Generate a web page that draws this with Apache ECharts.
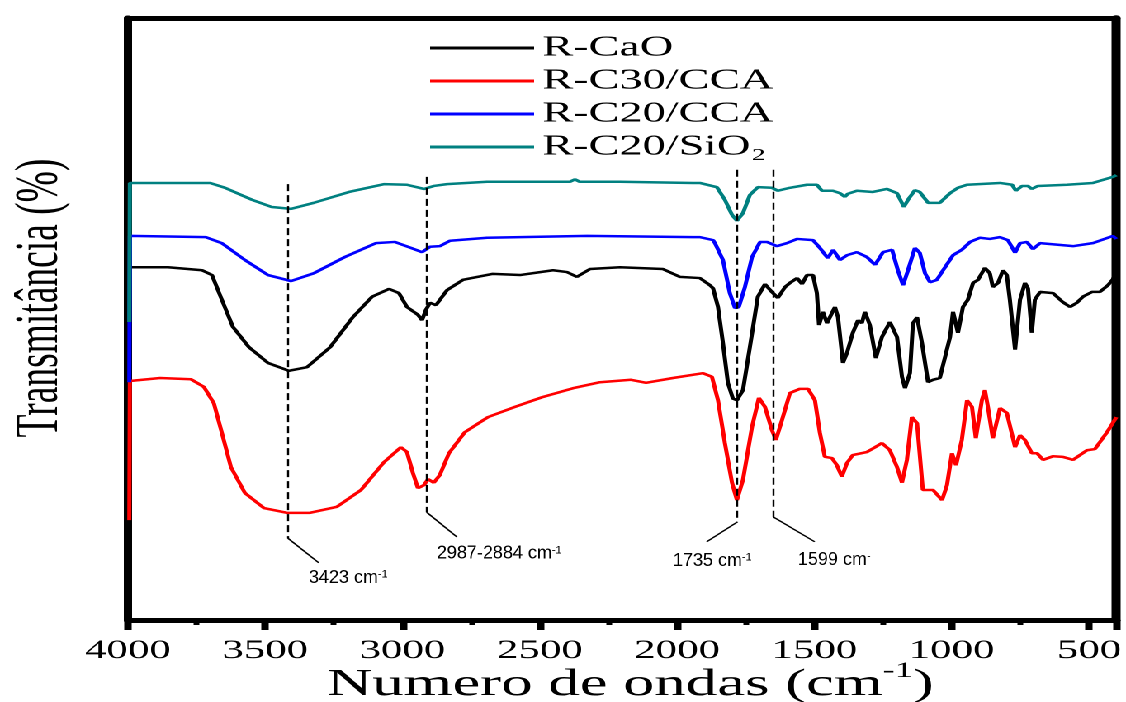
<!DOCTYPE html>
<html>
<head>
<meta charset="utf-8">
<title>FTIR - Transmitancia</title>
<script src="https://cdn.jsdelivr.net/npm/echarts@6.0.0/dist/echarts.min.js"></script>
<style>
html, body { margin: 0; padding: 0; background: #fff; overflow: hidden; }
/* the published figure is stretched sideways, so the chart is drawn narrow and widened */
#chart { width: 682px; height: 702px; transform: scaleX(1.651); transform-origin: 0 0; }
</style>
</head>
<body>
<div id="chart"></div>
<script>
const STRETCH = 1126 / 682

const seriesNames = ['R-CaO', 'R-C30/CCA', 'R-C20/CCA', 'R-C20/SiO₂']
const seriesColors = ['#000000', '#ff0000', '#0000ff', '#008080']

// [wavenumber cm-1, transmittance a.u.]
const rCaO = [
  [4000, 58.6], [3854, 58.6], [3730, 58.1], [3694, 57.3], [3658, 53.2], [3618, 48.7], [3559, 45.3], [3490, 42.7],
  [3414, 41.4], [3348, 42.0], [3264, 45.3], [3181, 50.3], [3111, 53.7], [3049, 55.0], [3013, 54.3], [2984, 52.0],
  [2944, 50.7], [2929, 49.8], [2915, 51.5], [2900, 52.7], [2878, 52.3], [2838, 54.8], [2780, 56.5], [2671, 57.5],
  [2572, 57.3], [2452, 58.1], [2401, 57.8], [2365, 57.0], [2317, 58.3], [2208, 58.6], [2052, 58.3], [1990, 57.0],
  [1917, 56.8], [1880, 55.6], [1869, 55.1], [1851, 52.0], [1833, 46.0], [1815, 39.4], [1797, 36.8], [1782, 36.5],
  [1760, 38.2], [1735, 45.3], [1706, 53.7], [1680, 55.8], [1655, 54.5], [1633, 53.5], [1607, 55.3], [1589, 56.0],
  [1563, 56.8], [1545, 55.8], [1527, 57.3], [1505, 57.3], [1491, 54.3], [1483, 49.0], [1469, 51.2], [1454, 49.3],
  [1436, 51.0], [1425, 52.0], [1414, 50.3], [1396, 42.7], [1381, 44.4], [1360, 47.7], [1341, 49.8], [1327, 49.3],
  [1316, 51.2], [1298, 49.0], [1276, 43.5], [1254, 47.0], [1225, 49.5], [1199, 47.0], [1181, 40.4], [1170, 38.5],
  [1152, 41.0], [1141, 49.3], [1126, 50.3], [1108, 46.0], [1086, 39.5], [1068, 39.9], [1043, 40.2], [1024, 43.7],
  [1006, 47.0], [995, 51.2], [977, 47.7], [959, 52.0], [941, 53.2], [922, 56.0], [904, 56.5], [879, 58.5],
  [861, 57.6], [850, 55.3], [831, 56.0], [813, 58.1], [799, 57.3], [788, 53.2], [769, 44.9], [751, 53.2],
  [733, 56.0], [722, 55.1], [708, 47.7], [697, 53.2], [678, 54.5], [631, 54.3], [595, 52.8], [569, 52.0],
  [544, 52.7], [522, 53.7], [489, 54.5], [460, 54.5], [431, 55.6], [413, 56.6], [405, 57.3]
]

const rC30CCA = [
  [3995, 16.6], [3993, 39.7], [3883, 40.2], [3771, 40.0], [3723, 38.7], [3687, 36.0], [3658, 31.1], [3625, 25.4],
  [3574, 21.1], [3505, 18.6], [3421, 17.8], [3337, 17.8], [3239, 18.8], [3151, 21.6], [3068, 26.2], [3006, 28.7],
  [2984, 27.9], [2962, 24.4], [2944, 21.9], [2922, 22.4], [2907, 23.4], [2886, 22.8], [2864, 24.1], [2831, 27.7],
  [2773, 31.2], [2689, 33.7], [2591, 35.4], [2492, 37.0], [2379, 38.5], [2281, 39.5], [2168, 39.9], [2113, 39.4],
  [2015, 40.2], [1906, 41.0], [1873, 40.4], [1851, 36.5], [1826, 29.4], [1800, 22.8], [1782, 19.9], [1760, 23.3],
  [1727, 32.1], [1702, 36.9], [1680, 35.4], [1655, 31.6], [1640, 29.9], [1618, 33.2], [1589, 37.7], [1553, 38.4],
  [1523, 38.4], [1498, 36.5], [1480, 31.1], [1462, 27.1], [1436, 26.9], [1418, 25.7], [1400, 23.8], [1381, 26.1],
  [1360, 27.4], [1309, 27.9], [1279, 28.7], [1254, 29.4], [1225, 28.2], [1199, 25.4], [1181, 22.8], [1163, 26.6],
  [1145, 33.7], [1126, 32.7], [1105, 21.6], [1068, 21.6], [1035, 19.9], [1017, 22.4], [999, 27.7], [984, 25.7],
  [963, 29.9], [944, 36.5], [926, 35.4], [912, 30.2], [890, 36.5], [879, 38.2], [868, 35.4], [850, 30.2],
  [824, 35.2], [799, 34.4], [769, 28.7], [751, 30.7], [733, 29.9], [708, 27.7], [689, 27.7], [667, 26.6],
  [631, 27.2], [595, 27.1], [558, 26.6], [507, 28.2], [478, 28.4], [434, 31.2], [400, 33.7]
]

const rC20CCA = [
  [3995, 39.5], [3993, 63.8], [3716, 63.6], [3658, 62.6], [3574, 59.8], [3490, 57.3], [3406, 56.3], [3323, 57.6],
  [3210, 60.3], [3097, 62.6], [3028, 62.8], [2969, 61.8], [2929, 61.1], [2900, 62.0], [2864, 62.1], [2827, 63.0],
  [2692, 63.5], [2328, 63.8], [1942, 63.6], [1917, 63.6], [1869, 63.1], [1862, 62.6], [1833, 59.8], [1808, 54.3],
  [1789, 51.8], [1775, 52.0], [1753, 55.3], [1727, 60.3], [1698, 62.8], [1673, 62.8], [1636, 62.1], [1600, 62.6],
  [1563, 63.3], [1505, 63.1], [1480, 61.8], [1451, 60.1], [1432, 61.5], [1407, 59.8], [1381, 60.6], [1345, 61.1],
  [1309, 60.3], [1279, 59.0], [1250, 61.1], [1217, 61.5], [1196, 58.1], [1177, 55.6], [1159, 58.1], [1134, 61.8],
  [1116, 61.0], [1097, 57.6], [1079, 56.1], [1054, 56.5], [1043, 56.8], [1024, 58.6], [995, 60.6], [963, 61.5],
  [933, 62.8], [897, 63.5], [861, 63.3], [824, 63.6], [795, 63.1], [769, 61.0], [751, 62.6], [726, 62.8],
  [704, 61.6], [678, 62.6], [558, 62.1], [486, 62.6], [413, 63.8], [400, 63.3]
]

const rC20SiO2 = [
  [3995, 49.5], [3993, 72.6], [3701, 72.6], [3647, 71.8], [3548, 69.8], [3476, 68.6], [3406, 68.3], [3323, 69.3],
  [3195, 71.1], [3068, 72.4], [2984, 72.3], [2922, 71.6], [2886, 72.1], [2838, 72.4], [2692, 72.8], [2390, 72.8],
  [2372, 73.2], [2355, 72.8], [2208, 72.8], [1942, 72.6], [1917, 72.6], [1855, 71.9], [1826, 69.8], [1800, 67.3],
  [1782, 66.3], [1760, 67.6], [1735, 70.6], [1706, 71.9], [1655, 71.8], [1633, 71.3], [1589, 71.8], [1527, 72.3],
  [1491, 72.3], [1472, 71.3], [1432, 71.3], [1407, 70.9], [1389, 70.3], [1378, 70.8], [1345, 71.3], [1287, 71.1],
  [1236, 71.6], [1199, 70.9], [1174, 68.6], [1159, 69.8], [1134, 71.4], [1116, 71.1], [1086, 69.3], [1068, 69.3],
  [1043, 69.3], [1006, 70.9], [977, 71.8], [944, 72.3], [824, 72.6], [780, 72.3], [766, 71.3], [744, 72.1],
  [722, 72.1], [708, 71.6], [686, 72.1], [580, 72.3], [486, 72.6], [413, 73.6], [400, 73.9]
]

// band markers: dashed drop lines, leader lines and their labels
const bandX = [3418, 2912, 1780, 1649]
const bandTop = [72.4, 73.6, 74.8, 74.8]
const bandBottom = [13.6, 17.9, 16.3, 17.1]
const leaderEnd = [[3305, 9.5], [2802, 13.8], [1892, 13.0], [1499, 13.0]]
const bandLabels = ['3423 cm{sup|-1}', '2987-2884 cm{sup|-1}', '1735 cm{sup|-1}', '1599 cm{sup|-}']
const bandLabelAt = [[3341, 7.0], [2875, 11.0], [2015, 9.8], [1560, 10.0]]

const spectra = [rCaO, rC30CCA, rC20CCA, rC20SiO2]

const serif = 'Liberation Serif'

const chart = echarts.init(document.getElementById('chart'), null, { renderer: 'canvas', devicePixelRatio: 2 })

const lineSeries = spectra.map((data, i) => ({
  name: seriesNames[i],
  type: 'line',
  data: data,
  symbol: 'none',
  color: seriesColors[i],
  lineStyle: { color: seriesColors[i], width: 2.5 },
  silent: true
}))

const dropLines = bandX.map((x, i) => ({ coords: [[x, bandTop[i]], [x, bandBottom[i]]] }))
const leaders = bandX.map((x, i) => ({ coords: [[x, bandBottom[i]], leaderEnd[i]] }))

chart.setOption({
  animation: false,
  backgroundColor: '#ffffff',
  grid: { left: 77.5, right: 5.8, top: 18, bottom: 82, containLabel: false, outerBoundsMode: 'none' },
  legend: {
    data: seriesNames,
    orient: 'vertical',
    left: 260.5,
    top: 33,
    padding: 0,
    icon: 'rect',
    itemWidth: 63,
    itemHeight: 3,
    itemGap: 3,
    selectedMode: false,
    textStyle: { fontFamily: serif, fontSize: 28, lineHeight: 30, color: '#000' }
  },
  xAxis: [
    {
      type: 'value',
      position: 'bottom',
      inverse: true,
      min: 400,
      max: 4000,
      splitNumber: 7,
      name: 'Numero de ondas (cm{sup|-1})',
      nameLocation: 'middle',
      nameGap: 40,
      nameMoveOverlap: false,
      nameTextStyle: {
        fontFamily: serif, fontSize: 38, lineHeight: 50, color: '#000', padding: [0, 0, 0, 10],
        rich: { sup: { fontFamily: serif, fontSize: 22, lineHeight: 16, verticalAlign: 'top', color: '#000' } }
      },
      axisLine: { show: true, onZero: false, lineStyle: { color: '#000', width: 5 } },
      axisTick: { show: true, inside: false, length: 10, lineStyle: { color: '#000', width: 4.5 } },
      minorTick: { show: true, splitNumber: 2, length: 5, lineStyle: { color: '#000', width: 3.5 } },
      axisLabel: {
        margin: 18, fontFamily: serif, fontSize: 26, color: '#000',
        formatter: v => (v % 500 === 0 ? String(v) : '')
      },
      splitLine: { show: false }
    },
    {
      type: 'value',
      position: 'top',
      inverse: true,
      min: 400,
      max: 4000,
      splitNumber: 7,
      axisLine: { show: true, onZero: false, lineStyle: { color: '#000', width: 5 } },
      axisTick: { show: true, inside: true, length: 3, lineStyle: { color: '#000', width: 1.5 } },
      minorTick: { show: true, splitNumber: 2, length: 3, lineStyle: { color: '#000', width: 1.5 } },
      axisLabel: { show: false },
      splitLine: { show: false }
    }
  ],
  yAxis: [
    {
      type: 'value',
      position: 'left',
      min: 0,
      max: 100,
      name: 'Transmitância (%)',
      nameLocation: 'middle',
      nameGap: 34,
      nameMoveOverlap: false,
      nameTextStyle: { fontFamily: serif, fontSize: 37.5, color: '#000', padding: [0, 0, 0, 42] },
      axisLine: { show: true, onZero: false, lineStyle: { color: '#000', width: 5 } },
      axisTick: { show: false },
      axisLabel: { show: false },
      splitLine: { show: false }
    },
    {
      type: 'value',
      position: 'right',
      min: 0,
      max: 100,
      axisLine: { show: true, onZero: false, lineStyle: { color: '#000', width: 5.5 } },
      axisTick: { show: false },
      axisLabel: { show: false },
      splitLine: { show: false }
    }
  ],
  series: lineSeries.concat([
    {
      type: 'lines',
      coordinateSystem: 'cartesian2d',
      silent: true,
      z: 5,
      lineStyle: { color: '#000', width: 1.2, type: [7, 4], opacity: 1 },
      data: dropLines
    },
    {
      type: 'lines',
      coordinateSystem: 'cartesian2d',
      silent: true,
      z: 5,
      lineStyle: { color: '#000', width: 1.2, type: 'solid', opacity: 1 },
      data: leaders
    }
  ])
})

// band labels were added to the figure after it was stretched, so undo the stretch for them
const labelGraphics = bandLabels.map((text, i) => {
  const pos = chart.convertToPixel({ xAxisIndex: 0, yAxisIndex: 0 }, bandLabelAt[i])
  return {
    type: 'text',
    x: pos[0],
    y: pos[1],
    scaleX: 1 / STRETCH,
    z: 10,
    silent: true,
    style: {
      text: text,
      fill: '#000',
      fontFamily: 'Liberation Sans',
      fontSize: 18,
      textAlign: 'left',
      textVerticalAlign: 'middle',
      align: 'left',
      verticalAlign: 'middle',
      rich: { sup: { fontFamily: 'Liberation Sans', fontSize: 11, verticalAlign: 'top', fill: '#000' } }
    }
  }
})
chart.setOption({ graphic: labelGraphics })
</script>
</body>
</html>
